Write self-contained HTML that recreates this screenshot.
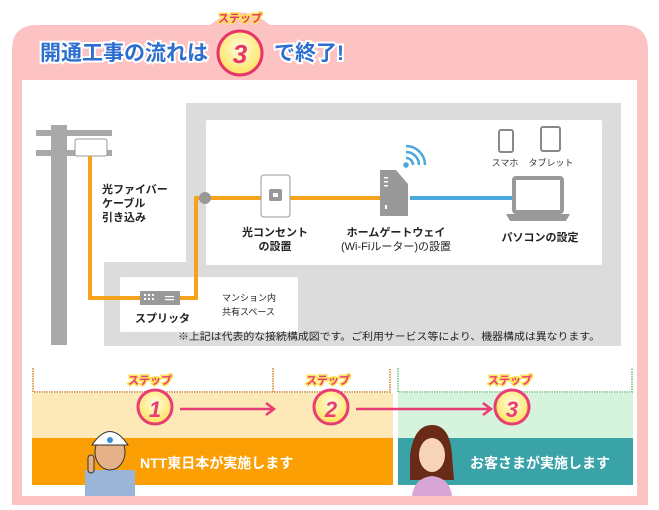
<!DOCTYPE html>
<html><head><meta charset="utf-8"><style>
body{margin:0;width:659px;height:510px;background:#fff;overflow:hidden}
svg{display:block}
text{font-family:"Liberation Sans","Noto Sans CJK JP",sans-serif}
</style></head><body>
<svg width="659" height="510" viewBox="0 0 659 510">
<defs>
<radialGradient id="cg" cx="50%" cy="40%" r="60%"><stop offset="0" stop-color="#fffde0"/><stop offset="1" stop-color="#ffe25a"/></radialGradient>
</defs>
<path d="M12 50 Q12 25 37 25 L210 25 Q240 0 270 25 L623 25 Q648 25 648 50 L648 505 L12 505 Z" fill="#fdc3c3"/>
<rect x="22" y="80" width="615" height="416" fill="#fff"/>
<text x="40" y="60" font-size="21" font-weight="bold" fill="#2c6fd1" stroke="#fff" stroke-width="4" paint-order="stroke">開通工事の流れは</text>
<circle cx="240" cy="53" r="22" fill="url(#cg)" stroke="#e8336b" stroke-width="3"/>
<text x="240" y="63" font-size="26" font-weight="bold" font-style="italic" fill="#e8336b" text-anchor="middle">3</text>
<text x="240" y="22" font-size="11" font-weight="bold" fill="#e8336b" stroke="#ffe25a" stroke-width="3" paint-order="stroke" text-anchor="middle">ステップ</text>
<text x="274" y="60" font-size="21" font-weight="bold" fill="#2c6fd1" stroke="#fff" stroke-width="4" paint-order="stroke">で終了!</text>
<rect x="186" y="103" width="435" height="243" fill="#dcdcdc"/>
<rect x="104" y="262" width="84" height="84" fill="#dcdcdc"/>
<rect x="206" y="120" width="396" height="145" fill="#fff" rx="2"/>
<rect x="120" y="277" width="178" height="55" fill="#fff" rx="2"/>
<rect x="51" y="125" width="16" height="220" fill="#a9a9a9"/>
<rect x="36" y="130" width="76" height="6" fill="#a9a9a9"/>
<rect x="36" y="150" width="76" height="6" fill="#a9a9a9"/>
<rect x="75" y="139" width="32" height="17" rx="2" fill="#fff" stroke="#999"/>
<path d="M90 156 V298 H196 V198 H385" fill="none" stroke="#f7a21b" stroke-width="4"/>
<circle cx="205" cy="198" r="6" fill="#999"/>
<path d="M410 198 H512" stroke="#4aa8dc" stroke-width="4"/>
<rect x="140" y="291" width="40" height="14" fill="#999"/>
<g fill="#fff"><rect x="144" y="294" width="2" height="2"/><rect x="148" y="294" width="2" height="2"/><rect x="152" y="294" width="2" height="2"/><rect x="144" y="298" width="2" height="2"/><rect x="148" y="298" width="2" height="2"/><rect x="152" y="298" width="2" height="2"/><rect x="165" y="296" width="9" height="1.2"/><rect x="165" y="299" width="9" height="1.2"/></g>
<rect x="261" y="175" width="29" height="42" rx="3" fill="#fff" stroke="#999"/>
<rect x="269" y="189" width="13" height="12" rx="2" fill="#999"/>
<rect x="273" y="193" width="5" height="4" fill="#fff"/>
<path d="M380 170 H396 L408 184 V216 H380 Z" fill="#999"/>
<g fill="#fff"><rect x="384" y="177" width="4" height="1.5"/><rect x="384" y="181" width="4" height="1.5"/><rect x="384" y="185" width="4" height="1.5"/><rect x="385" y="205" width="2" height="4"/></g>
<g fill="none" stroke="#4aa8dc" stroke-width="2.5"><circle cx="406" cy="165" r="1.5" fill="#4aa8dc"/><path d="M406 158 A7 7 0 0 1 413 165"/><path d="M406 152 A13 13 0 0 1 419 165"/><path d="M406 146 A19 19 0 0 1 425 165" /></g>
<rect x="499" y="130" width="14" height="22" rx="2" fill="#fff" stroke="#888" stroke-width="2"/>
<rect x="541" y="127" width="19" height="24" rx="2" fill="#fff" stroke="#888" stroke-width="2"/>
<text x="505" y="166" font-size="9" text-anchor="middle" fill="#333">スマホ</text>
<text x="551" y="166" font-size="9" text-anchor="middle" fill="#333">タブレット</text>
<rect x="514" y="178" width="48" height="34" rx="2" fill="#fff" stroke="#999" stroke-width="4"/>
<path d="M506 214 H570 L566 221 H510 Z" fill="#999"/>
<g font-size="11" fill="#222" font-weight="bold">
<text x="102" y="193">光ファイバー</text><text x="102" y="207">ケーブル</text><text x="102" y="221">引き込み</text>
<text x="275" y="236" text-anchor="middle">光コンセント</text><text x="275" y="250" text-anchor="middle">の設置</text>
<text x="396" y="236" text-anchor="middle">ホームゲートウェイ</text><text x="396" y="250" text-anchor="middle" font-weight="normal">(Wi-Fiルーター)の設置</text>
<text x="540" y="241" text-anchor="middle">パソコンの設定</text>
<text x="135" y="322">スプリッタ</text>
</g>
<text x="222" y="301" font-size="9" fill="#222">マンション内</text>
<text x="222" y="315" font-size="9" fill="#222">共有スペース</text>
<text x="178" y="340" font-size="10" fill="#222" textLength="422" lengthAdjust="spacingAndGlyphs">※上記は代表的な接続構成図です。ご利用サービス等により、機器構成は異なります。</text>
<g fill="none" stroke-width="2" stroke-dasharray="1.5 1">
<path d="M33 368 V392 H390 V368 M273 368 V392" stroke="#d9a060"/>
<path d="M398 368 V392 H632 V368" stroke="#8fcf9f"/>
</g>
<rect x="32" y="393" width="361" height="45" fill="#fde9b8"/>
<rect x="398" y="393" width="235" height="45" fill="#d6f3dd"/>
<rect x="32" y="438" width="361" height="47" fill="#fb9f05"/>
<rect x="398" y="438" width="235" height="47" fill="#3aa3a8"/>
<g stroke="#e83c76" stroke-width="2.5" fill="none"><path d="M180 409 H273 M266 403 L274 409 L266 415"/><path d="M356 409 H490 M483 403 L491 409 L483 415"/></g>
<g font-weight="bold">
<circle cx="155" cy="407" r="17" fill="url(#cg)" stroke="#e83c76" stroke-width="3"/>
<text x="155" y="417" font-size="22" font-style="italic" fill="#e83c76" text-anchor="middle">1</text>
<circle cx="331" cy="407" r="17" fill="url(#cg)" stroke="#e83c76" stroke-width="3"/>
<text x="331" y="417" font-size="22" font-style="italic" fill="#e83c76" text-anchor="middle">2</text>
<circle cx="512" cy="407" r="17" fill="url(#cg)" stroke="#e83c76" stroke-width="3"/>
<text x="512" y="417" font-size="22" font-style="italic" fill="#e83c76" text-anchor="middle">3</text>
<g font-size="11" fill="#e83c76" stroke="#ffe25a" stroke-width="3" paint-order="stroke" text-anchor="middle">
<text x="150" y="384">ステップ</text><text x="328" y="384">ステップ</text><text x="510" y="384">ステップ</text></g>
<text x="140" y="468" font-size="14" fill="#fff">NTT東日本が実施します</text>
<text x="470" y="468" font-size="14" fill="#fff">お客さまが実施します</text>
</g>
<rect x="85" y="470" width="50" height="26" fill="#9bb5d8"/>
<ellipse cx="110" cy="452" rx="15" ry="18" fill="#e6b088" stroke="#333"/>
<path d="M92 445 Q110 418 128 445 Z" fill="#fff" stroke="#333"/>
<circle cx="110" cy="440" r="3" fill="#3a8dd0"/>
<rect x="88" y="455" width="6" height="18" rx="3" fill="#e6b088" stroke="#333"/>
<path d="M410 455 Q414 425 432 425 Q450 425 452 455 L454 480 L410 480 Z" fill="#6a2a18"/>
<ellipse cx="432" cy="455" rx="13" ry="17" fill="#f7d4b8"/>
<path d="M412 496 Q414 478 432 476 Q450 478 452 496 Z" fill="#d9a6d8"/>
</svg>
</body></html>
